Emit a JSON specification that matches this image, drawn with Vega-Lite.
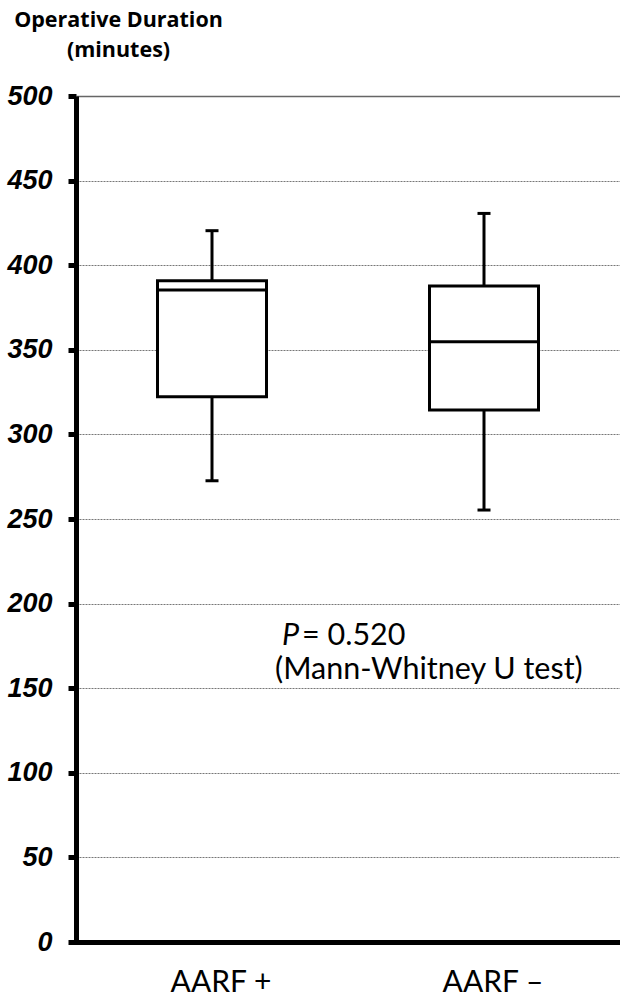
{
  "$schema": "https://vega.github.io/schema/vega-lite/v6.json",
  "width": 544,
  "height": 846,
  "autosize": {"type": "none"},
  "padding": {"left": 76, "top": 96, "right": 0, "bottom": 59},
  "background": "white",
  "config": {"view": {"stroke": null}},
  "datasets": {
    "stats": [
      {"group": "AARF +", "lower": 272.6, "q1": 322.3, "median": 385.3, "q3": 390.8, "upper": 420.4},
      {"group": "AARF –", "lower": 255.3, "q1": 314.4, "median": 354.8, "q3": 387.7, "upper": 430.6}
    ],
    "notes": [
      {"group": "AARF +", "y": 181, "part": "P", "style": "italic"},
      {"group": "AARF +", "y": 181, "part": "= 0.520", "style": "normal"},
      {"group": "AARF +", "y": 161, "part": "(Mann-Whitney U test)", "style": "normal"}
    ]
  },
  "encoding": {
    "x": {
      "field": "group",
      "type": "nominal",
      "sort": ["AARF +", "AARF –"],
      "scale": {"domain": ["AARF +", "AARF –"], "paddingInner": 0.5, "paddingOuter": 0.25},
      "axis": {
        "title": null,
        "labelAngle": 0,
        "labelFont": "Lato",
        "labelFontSize": 30,
        "labelColor": "black",
        "labelPadding": 25,
        "labelOffset": 9,
        "ticks": false,
        "domainColor": "black",
        "domainWidth": 5,
        "domainCap": "square"
      }
    }
  },
  "layer": [
    {
      "data": {"name": "stats"},
      "mark": {"type": "rule", "color": "black", "strokeWidth": 3},
      "encoding": {
        "y": {
          "field": "lower",
          "type": "quantitative",
          "scale": {"domain": [0, 500], "nice": false},
          "axis": {
            "title": ["Operative Duration", "(minutes)"],
            "titleAngle": 0,
            "titleFont": "Open Sans",
            "titleFontSize": 21.5,
            "titleFontWeight": "bold",
            "titleColor": "black",
            "titleAlign": "center",
            "titleBaseline": "top",
            "titleLineHeight": 30,
            "titleX": 42,
            "titleY": -87,
            "values": [0, 50, 100, 150, 200, 250, 300, 350, 400, 450, 500],
            "labelFont": "Liberation Sans",
            "labelFontSize": 27,
            "labelFontWeight": "bold",
            "labelFontStyle": "italic",
            "labelColor": "black",
            "labelPadding": 16,
            "tickSize": 8,
            "tickWidth": 5,
            "tickColor": "black",
            "domainColor": "black",
            "domainWidth": 5,
            "grid": true,
            "gridColor": {"condition": {"test": "datum.value === 500", "value": "#666666"}, "value": "#777777"},
            "gridWidth": {"condition": {"test": "datum.value === 500", "value": 1.5}, "value": 1},
            "gridDash": {"condition": {"test": "datum.value === 500", "value": []}, "value": [2, 1]}
          }
        },
        "y2": {"field": "q1"}
      }
    },
    {
      "data": {"name": "stats"},
      "mark": {"type": "rule", "color": "black", "strokeWidth": 3},
      "encoding": {
        "y": {"field": "q3", "type": "quantitative"},
        "y2": {"field": "upper"}
      }
    },
    {
      "data": {"name": "stats"},
      "mark": {"type": "bar", "fill": "white", "stroke": "black", "strokeWidth": 3, "size": 109, "opacity": 1},
      "encoding": {
        "y": {"field": "q1", "type": "quantitative"},
        "y2": {"field": "q3"}
      }
    },
    {
      "data": {"name": "stats"},
      "mark": {"type": "tick", "color": "black", "thickness": 3, "size": 109, "opacity": 1},
      "encoding": {"y": {"field": "median", "type": "quantitative"}}
    },
    {
      "data": {"name": "stats"},
      "mark": {"type": "tick", "color": "black", "thickness": 3, "size": 13, "opacity": 1},
      "encoding": {"y": {"field": "lower", "type": "quantitative"}}
    },
    {
      "data": {"name": "stats"},
      "mark": {"type": "tick", "color": "black", "thickness": 3, "size": 13, "opacity": 1},
      "encoding": {"y": {"field": "upper", "type": "quantitative"}}
    },
    {
      "data": {"name": "notes"},
      "transform": [{"filter": "datum.part === 'P'"}],
      "mark": {"type": "text", "font": "Lato", "fontSize": 30.5, "fontStyle": "italic", "align": "left", "baseline": "middle", "dx": 70, "color": "black"},
      "encoding": {
        "y": {"field": "y", "type": "quantitative"},
        "text": {"field": "part"}
      }
    },
    {
      "data": {"name": "notes"},
      "transform": [{"filter": "datum.part === '= 0.520'"}],
      "mark": {"type": "text", "font": "Lato", "fontSize": 30.5, "align": "left", "baseline": "middle", "dx": 90, "color": "black"},
      "encoding": {
        "y": {"field": "y", "type": "quantitative"},
        "text": {"field": "part"}
      }
    },
    {
      "data": {"name": "notes"},
      "transform": [{"filter": "datum.part === '(Mann-Whitney U test)'"}],
      "mark": {"type": "text", "font": "Lato", "fontSize": 30.5, "align": "left", "baseline": "middle", "dx": 63, "color": "black"},
      "encoding": {
        "y": {"field": "y", "type": "quantitative"},
        "text": {"field": "part"}
      }
    }
  ]
}
